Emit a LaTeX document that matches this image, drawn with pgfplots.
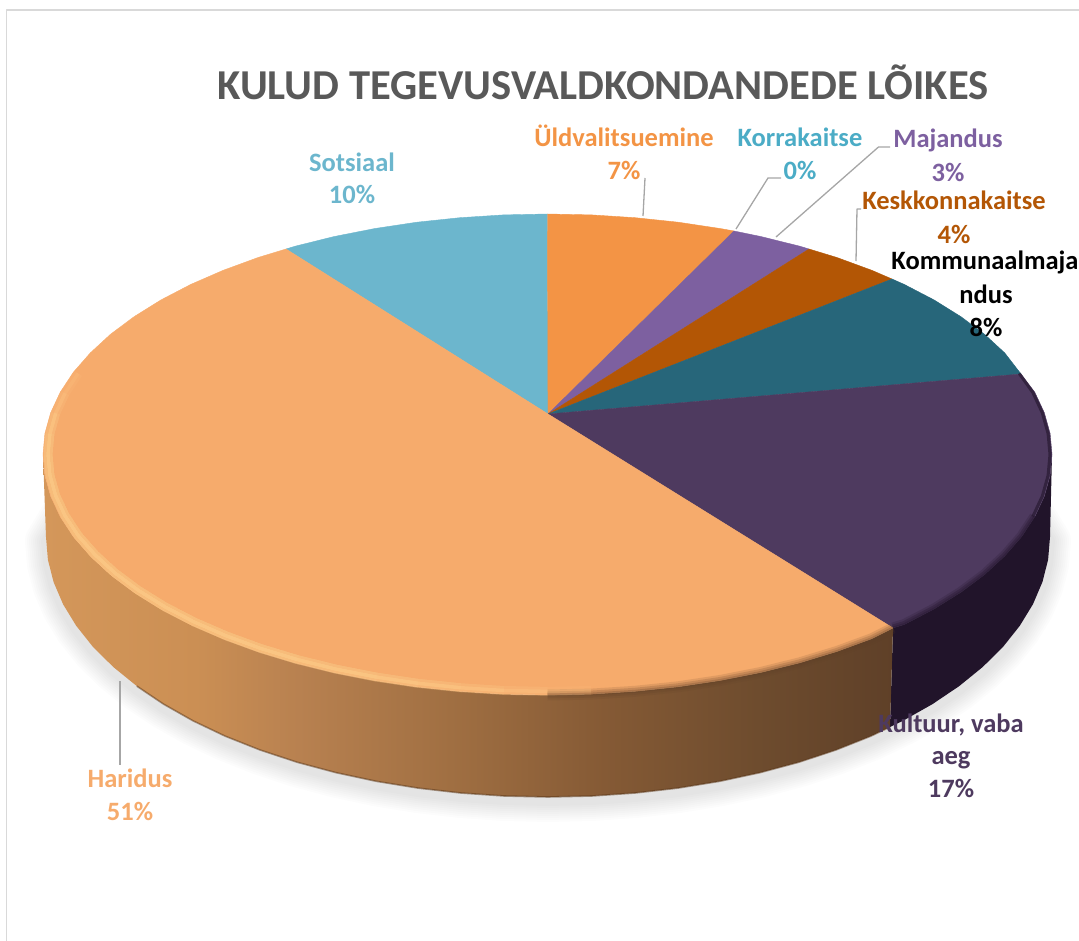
\documentclass[border=0pt]{standalone}
\usepackage{pgfplots}
\usepackage{pgfplotstable}
\usepackage{fontspec}
\setmainfont{Carlito}
\pgfplotsset{compat=1.18}
\definecolor{cSots}{HTML}{6CB6CD}
\definecolor{cUld}{HTML}{F39445}
\definecolor{cMaj}{HTML}{7D60A0}
\definecolor{cKesk}{HTML}{B35605}
\definecolor{cKomm}{HTML}{27667A}
\definecolor{cKult}{HTML}{4E3A5F}
\definecolor{cHar}{HTML}{F6AB6C}
\definecolor{cKultSide}{HTML}{21142A}
\definecolor{HarA}{HTML}{D4975A}
\definecolor{HarB}{HTML}{CB8F54}
\definecolor{HarC}{HTML}{B88150}
\definecolor{HarD}{HTML}{A06F42}
\definecolor{HarE}{HTML}{855A35}
\definecolor{HarF}{HTML}{6E4C2E}
\definecolor{HarG}{HTML}{5F4028}
\definecolor{cLead}{HTML}{A6A6A6}
\definecolor{cHigh}{HTML}{FFCB88}
\pgfdeclarehorizontalshading{haridusside}{100bp}{
 color(0bp)=(HarA); color(25bp)=(HarA); color(34bp)=(HarB); color(40bp)=(HarC);
 color(49bp)=(HarD); color(58bp)=(HarE); color(67bp)=(HarF); color(75bp)=(HarG); color(100bp)=(HarG)}
% outline of the pie's shadow: lower arc of the side, closed behind the pie
\pgfplotstableread{
x y
1015.0 480.0
1050.0 537.0
1048.1 559.7
1042.4 582.1
1032.9 604.3
1019.7 625.9
1003.0 646.9
982.7 667.0
959.2 686.1
932.5 704.1
903.0 720.8
870.7 736.2
835.9 750.0
799.0 762.2
760.2 772.6
719.7 781.3
677.9 788.1
635.2 793.0
591.8 796.0
548.0 797.0
504.2 796.0
460.8 793.0
418.1 788.1
376.3 781.3
335.8 772.6
297.0 762.2
260.1 750.0
225.3 736.2
193.0 720.8
163.5 704.1
136.8 686.1
113.3 667.0
93.0 646.9
76.3 625.9
63.1 604.3
53.6 582.1
47.9 559.7
46.0 537.0
80.0 480.0
1015.0 480.0
}\lowerarc
% Haridus rim, highlight part
\pgfplotstableread{
x y
635.1 691.3
591.5 694.1
547.5 695.0
503.5 694.1
459.9 691.3
416.9 686.8
375.0 680.5
334.3 672.5
295.2 662.8
258.1 651.5
223.2 638.7
190.8 624.6
161.0 609.1
134.2 592.4
110.6 574.8
90.3 556.1
73.4 536.8
60.2 516.7
50.7 496.3
44.9 475.5
43.0 454.5
44.9 433.5
50.7 412.7
60.2 392.3
73.4 372.2
90.3 352.9
}\rimlight
% Haridus rim, shaded part
\pgfplotstableread{
x y
893.0 628.0
871.8 638.7
836.9 651.5
799.8 662.8
760.7 672.5
720.0 680.5
678.1 686.8
635.1 691.3
591.5 694.1
547.5 695.0
}\rimdark
% Kultuur rim, lower part
\pgfplotstableread{
x y
893.0 628.0
904.2 624.6
934.0 609.1
960.8 592.4
984.4 574.8
1004.7 556.1
1021.6 536.8
1034.8 516.7
}\rimkult
% Kultuur rim, upper part
\pgfplotstableread{
x y
1034.8 516.7
1044.3 496.3
1050.1 475.5
1052.0 454.5
1050.1 433.5
1044.3 412.7
1034.8 392.3
1021.0 373.0
}\rimkulttop
\newcommand\HL[4]{\addplot[draw=cHigh, draw opacity=#1, line width=#2pt, restrict x to domain=0:#3, restrict y to domain=#4:800]
 table[x expr=547.5+(\thisrow{x}-547.5)*0.990, y expr=454.5+(\thisrow{y}-454.5)*0.985] {\rimlight};}
\begin{document}
\begin{tikzpicture}
\useasboundingbox (0,0) rectangle (1079pt,941pt);
\begin{axis}[
  scale only axis, width=1079pt, height=941pt,
  xmin=0, xmax=1079, ymin=0, ymax=941, y dir=reverse,
  hide axis, clip=true, no markers,
  every axis plot/.append style={line join=round},
]
% chart frame
\addplot[draw={rgb,255:red,217;green,217;blue,217}, line width=1.5pt] coordinates {(1079,10) (6.5,10) (6.5,941)};
% soft shadow
\addplot[draw=black, draw opacity=.011, line width=42pt] table[y expr=\thisrow{y}+4] {\lowerarc};
\addplot[draw=black, draw opacity=.011, line width=38pt] table[y expr=\thisrow{y}+4] {\lowerarc};
\addplot[draw=black, draw opacity=.011, line width=34pt] table[y expr=\thisrow{y}+4] {\lowerarc};
\addplot[draw=black, draw opacity=.011, line width=30pt] table[y expr=\thisrow{y}+4] {\lowerarc};
\addplot[draw=black, draw opacity=.011, line width=26pt] table[y expr=\thisrow{y}+4] {\lowerarc};
\addplot[draw=black, draw opacity=.011, line width=22pt] table[y expr=\thisrow{y}+4] {\lowerarc};
\addplot[draw=black, draw opacity=.011, line width=18pt] table[y expr=\thisrow{y}+4] {\lowerarc};
\addplot[draw=black, draw opacity=.011, line width=14pt] table[y expr=\thisrow{y}+4] {\lowerarc};
\addplot[draw=black, draw opacity=.011, line width=10pt] table[y expr=\thisrow{y}+4] {\lowerarc};
% side: Kultuur
\addplot[draw=none, fill=cKultSide] coordinates {
(893,628)(904.2,624.6)(934.0,609.1)(960.8,592.4)(984.4,574.8)(1004.7,556.1)(1021.6,536.8)(1034.8,516.7)(1044.3,496.3)(1050.1,475.5)(1052.0,454.5)
(1050.0,537.0)(1048.1,559.7)(1042.4,582.1)(1032.9,604.3)(1019.7,625.9)(1003.0,646.9)(982.7,667.0)(959.2,686.1)(932.5,704.1)(903.0,720.8)(890,727)};
% side: Haridus
\addplot[draw=none, shading=haridusside] coordinates {
(893,628)(871.8,638.7)(836.9,651.5)(799.8,662.8)(760.7,672.5)(720.0,680.5)(678.1,686.8)(635.1,691.3)(591.5,694.1)(547.5,695.0)(503.5,694.1)(459.9,691.3)(416.9,686.8)(375.0,680.5)(334.3,672.5)(295.2,662.8)(258.1,651.5)(223.2,638.7)(190.8,624.6)(161.0,609.1)(134.2,592.4)(110.6,574.8)(90.3,556.1)(73.4,536.8)(60.2,516.7)(50.7,496.3)(44.9,475.5)(43.0,454.5)
(46.0,537.0)(47.9,559.7)(53.6,582.1)(63.1,604.3)(76.3,625.9)(93.0,646.9)(113.3,667.0)(136.8,686.1)(163.5,704.1)(193.0,720.8)(225.3,736.2)(260.1,750.0)(297.0,762.2)(335.8,772.6)(376.3,781.3)(418.1,788.1)(460.8,793.0)(504.2,796.0)(548.0,797.0)(591.8,796.0)(635.2,793.0)(677.9,788.1)(719.7,781.3)(760.2,772.6)(799.0,762.2)(835.9,750.0)(870.7,736.2)(890,727)};
% dark lower edge of the Haridus side
\addplot[draw={rgb,255:red,90;green,55;blue,25}, draw opacity=.5, line width=1.6pt] coordinates {
(136.8,686.1)(163.5,704.1)(193.0,720.8)(225.3,736.2)(260.1,750.0)(297.0,762.2)(335.8,772.6)(376.3,781.3)(418.1,788.1)(460.8,793.0)(504.2,796.0)(548.0,797.0)(591.8,796.0)(635.2,793.0)(677.9,788.1)(719.7,781.3)(760.2,772.6)(799.0,762.2)(835.9,750.0)(870.7,736.2)(890,727)};
% top: Sotsiaal
\addplot[draw=cSots, line width=.4pt, fill=cSots] coordinates {(548,414)(286,249)(295.2,246.2)(334.3,236.5)(375.0,228.5)(416.9,222.2)(459.9,217.7)(503.5,214.9)(547.5,214)} -- cycle;
% top: Uldvalitsuemine
\addplot[draw=cUld, line width=.4pt, fill=cUld] coordinates {(548,414)(547.5,214)(591.5,214.9)(635.1,217.7)(678.1,222.2)(720.0,228.5)(734,231)} -- cycle;
% top: Majandus (Korrakaitse is 0 percent and has no visible slice)
\addplot[draw=cMaj, line width=.4pt, fill=cMaj] coordinates {(548,414)(734,231)(760.7,236.5)(799.8,246.2)(809,249)} -- cycle;
% top: Keskkonnakaitse
\addplot[draw=cKesk, line width=.4pt, fill=cKesk] coordinates {(548,414)(809,249)(836.9,257.5)(871.8,270.3)(892,279)} -- cycle;
% top: Kommunaalmajandus
\addplot[draw=cKomm, line width=.4pt, fill=cKomm] coordinates {(548,414)(892,279)(904.2,284.4)(934.0,299.9)(960.8,316.6)(984.4,334.2)(1004.7,352.9)(1021,374)} -- cycle;
% top: Kultuur, vaba aeg
\addplot[draw=cKult, line width=.4pt, fill=cKult] coordinates {(548,414)(1021,374)(1034.8,392.3)(1044.3,412.7)(1050.1,433.5)(1052.0,454.5)(1050.1,475.5)(1044.3,496.3)(1034.8,516.7)(1021.6,536.8)(1004.7,556.1)(984.4,574.8)(960.8,592.4)(934.0,609.1)(904.2,624.6)(893,628)} -- cycle;
% top: Haridus
\addplot[draw=cHar, line width=.4pt, fill=cHar] coordinates {(548,414)(893,628)(871.8,638.7)(836.9,651.5)(799.8,662.8)(760.7,672.5)(720.0,680.5)(678.1,686.8)(635.1,691.3)(591.5,694.1)(547.5,695.0)(503.5,694.1)(459.9,691.3)(416.9,686.8)(375.0,680.5)(334.3,672.5)(295.2,662.8)(258.1,651.5)(223.2,638.7)(190.8,624.6)(161.0,609.1)(134.2,592.4)(110.6,574.8)(90.3,556.1)(73.4,536.8)(60.2,516.7)(50.7,496.3)(44.9,475.5)(43.0,454.5)(44.9,433.5)(50.7,412.7)(60.2,392.3)(73.4,372.2)(90.3,352.9)(110.6,334.2)(134.2,316.6)(161.0,299.9)(190.8,284.4)(223.2,270.3)(258.1,257.5)(286,249)} -- cycle;
% bevel: Kultuur
\addplot[draw=cKultSide, draw opacity=.2, line width=11pt] table {\rimkult};
\addplot[draw=cKultSide, draw opacity=.3, line width=7pt] table {\rimkult};
\addplot[draw=cKultSide, draw opacity=.3, line width=3pt] table {\rimkult};
\addplot[draw=cKultSide, draw opacity=.6, line width=3pt] table[x expr=547.5+(\thisrow{x}-547.5)*0.996, y expr=454.5+(\thisrow{y}-454.5)*0.996] {\rimkulttop};
% bevel: Haridus shaded part
\addplot[draw=HarG, draw opacity=.14, line width=11pt] table {\rimdark};
\addplot[draw=HarG, draw opacity=.2, line width=7pt] table {\rimdark};
\addplot[draw=HarG, draw opacity=.25, line width=3pt] table {\rimdark};
% bevel: Haridus highlight, fading towards both ends
\HL{.12}{9}{595}{372}\HL{.12}{9}{550}{392}\HL{.12}{9}{505}{412}\HL{.12}{9}{462}{412}\HL{.12}{9}{420}{433}\HL{.12}{9}{378}{433}\HL{.12}{9}{336}{454}
\HL{.18}{3.5}{595}{372}\HL{.18}{3.5}{550}{392}\HL{.18}{3.5}{505}{412}\HL{.18}{3.5}{462}{412}\HL{.18}{3.5}{420}{433}\HL{.18}{3.5}{378}{433}\HL{.18}{3.5}{336}{454}
% leader lines
\addplot[draw=cLead, line width=1.3pt] coordinates {(645,178)(643,216)};
\addplot[draw=cLead, line width=1.3pt] coordinates {(781,178)(768,178)(736,229)};
\addplot[draw=cLead, line width=1.3pt] coordinates {(890,147)(878.5,147)(776,237)};
\addplot[draw=cLead, line width=1.3pt] coordinates {(861,209)(857,209)(856,261)};
\addplot[draw=cLead, line width=1.3pt] coordinates {(120,681)(120,765)};
% title and labels
\node[anchor=base, text={rgb,255:red,89;green,89;blue,89}, font=\fontsize{42.6}{44}\selectfont\bfseries] at (axis cs:603,99.5) {KULUD TEGEVUSVALDKONDANDEDE LÕIKES};
\tikzset{lab/.style={anchor=base, font=\fontsize{26.5}{28}\selectfont\bfseries, inner sep=0pt}}
\node[lab, text=cSots] at (axis cs:352,171.5) {Sotsiaal};
\node[lab, text=cSots] at (axis cs:352,203.5) {10\%};
\node[lab, text=cUld] at (axis cs:624,146.5) {Üldvalitsuemine};
\node[lab, text=cUld] at (axis cs:624,179.5) {7\%};
\node[lab, text={rgb,255:red,75;green,172;blue,198}] at (axis cs:800,146.5) {Korrakaitse};
\node[lab, text={rgb,255:red,75;green,172;blue,198}] at (axis cs:800,179.5) {0\%};
\node[lab, text=cMaj] at (axis cs:948,147.5) {Majandus};
\node[lab, text=cMaj] at (axis cs:948,181.5) {3\%};
\node[lab, text=cKesk] at (axis cs:954,209.5) {Keskkonnakaitse};
\node[lab, text=cKesk] at (axis cs:954,243.5) {4\%};
\node[lab, text=black] at (axis cs:985,270) {Kommunaalmaja};
\node[lab, text=black] at (axis cs:986,303.5) {ndus};
\node[lab, text=black] at (axis cs:986,336.5) {8\%};
\node[lab, text=cKult] at (axis cs:951,732.5) {Kultuur, vaba};
\node[lab, text=cKult] at (axis cs:951,764.5) {aeg};
\node[lab, text=cKult] at (axis cs:951,797) {17\%};
\node[lab, text=cHar] at (axis cs:130,787) {Haridus};
\node[lab, text=cHar] at (axis cs:130,820) {51\%};
\end{axis}
\end{tikzpicture}
\end{document}
